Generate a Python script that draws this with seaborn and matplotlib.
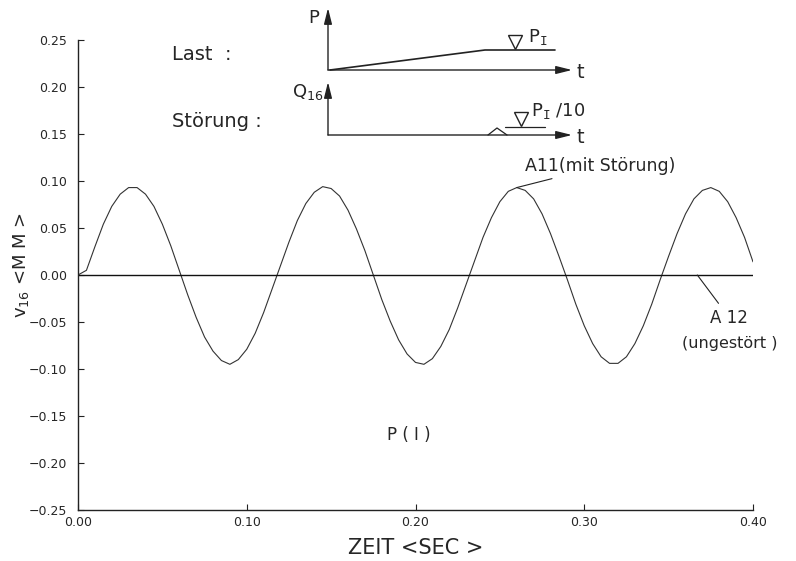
import numpy as np
import pandas as pd
import matplotlib
matplotlib.use("Agg")
import matplotlib.pyplot as plt
import seaborn as sns

# ---------------- data ----------------
time_s = [0.000, 0.005, 0.010, 0.015, 0.020, 0.025, 0.030, 0.035, 0.040, 0.045,
          0.050, 0.055, 0.060, 0.065, 0.070, 0.075, 0.080, 0.085, 0.090, 0.095,
          0.100, 0.105, 0.110, 0.115, 0.120, 0.125, 0.130, 0.135, 0.140, 0.145,
          0.150, 0.155, 0.160, 0.165, 0.170, 0.175, 0.180, 0.185, 0.190, 0.195,
          0.200, 0.205, 0.210, 0.215, 0.220, 0.225, 0.230, 0.235, 0.240, 0.245,
          0.250, 0.255, 0.260, 0.265, 0.270, 0.275, 0.280, 0.285, 0.290, 0.295,
          0.300, 0.305, 0.310, 0.315, 0.320, 0.325, 0.330, 0.335, 0.340, 0.345,
          0.350, 0.355, 0.360, 0.365, 0.370, 0.375, 0.380, 0.385, 0.390, 0.395,
          0.400]
a11_mit_stoerung = [0.000, 0.005, 0.030, 0.054, 0.073, 0.086, 0.093, 0.093, 0.086, 0.073,
                    0.054, 0.031, 0.005, -0.021, -0.045, -0.066, -0.081, -0.091, -0.095, -0.090,
                    -0.079, -0.062, -0.040, -0.015, 0.010, 0.035, 0.058, 0.076, 0.088, 0.094,
                    0.092, 0.084, 0.069, 0.049, 0.026, 0.000, -0.026, -0.049, -0.069, -0.084,
                    -0.093, -0.095, -0.089, -0.076, -0.058, -0.035, -0.010, 0.015, 0.040, 0.061,
                    0.078, 0.089, 0.093, 0.090, 0.081, 0.065, 0.044, 0.020, -0.005, -0.031,
                    -0.054, -0.073, -0.087, -0.094, -0.094, -0.087, -0.073, -0.054, -0.031, -0.005,
                    0.020, 0.044, 0.065, 0.081, 0.090, 0.093, 0.089, 0.078, 0.061, 0.040,
                    0.014]
a12_time = [0.000, 0.400]
a12_ungestoert = [0.000, 0.000]

x_ticks = [0.00, 0.10, 0.20, 0.30, 0.40]
x_ticklabels = ["0.00", "0.10", "0.20", "0.30", "0.40"]
y_ticks = [0.25, 0.20, 0.15, 0.10, 0.05, 0.00, -0.05, -0.10, -0.15, -0.20, -0.25]
y_ticklabels = ["0.25", "0.20", "0.15", "0.10", "0.05", "0.00",
                "\u22120.05", "\u22120.10", "\u22120.15", "\u22120.20", "\u22120.25"]

# schematic inset (load and disturbance sketches), in sketch units
load_t = [330, 485, 555]
load_p = [70, 50, 50]
hump_t = [488, 497, 507]
hump_q = [135, 128, 135]
level_t = [505, 545]
level_q = [127, 127]

# ---------------- styling ----------------
sns.set_theme(style="ticks")
plt.rcParams["font.family"] = ["DejaVu Sans"]
plt.rcParams["mathtext.fontset"] = "dejavusans"

fig = plt.figure(figsize=(7.96, 5.61), dpi=100)
W, H = 796, 561
ax = fig.add_axes([78 / W, 1 - 510 / H, (753 - 78) / W, (510 - 40) / H])

df = pd.DataFrame({"t": time_s, "v": a11_mit_stoerung})
df2 = pd.DataFrame({"t": a12_time, "v": a12_ungestoert})
sns.lineplot(data=df, x="t", y="v", ax=ax, color="#333333", linewidth=0.8, sort=False)
sns.lineplot(data=df2, x="t", y="v", ax=ax, color="#111111", linewidth=1.0)

ax.set_xlim(0, 0.40)
ax.set_ylim(-0.25, 0.25)
ax.set_xticks(x_ticks)
ax.set_xticklabels(x_ticklabels, fontsize=9)
ax.set_yticks(y_ticks)
ax.set_yticklabels(y_ticklabels, fontsize=9)
ax.tick_params(direction="in", length=4, width=0.8, color="#222222", pad=8)
ax.tick_params(axis="x", pad=4)
for s in ["top", "right"]:
    ax.spines[s].set_visible(False)
for s in ["left", "bottom"]:
    ax.spines[s].set_linewidth(1.0)
    ax.spines[s].set_color("#222222")

ax.set_xlabel("ZEIT <SEC >", fontsize=15, labelpad=7)
ax.set_ylabel("v$_{16}$ <M M >", fontsize=13)
ax.yaxis.set_label_coords(-0.07, 0.52)

# annotations
ax.annotate("A11(mit Störung)", xy=(0.260, 0.093), xytext=(0.265, 0.106),
            fontsize=12.5, ha="left", va="bottom",
            arrowprops=dict(arrowstyle="-", color="#222222", lw=0.8, shrinkA=0, shrinkB=0))
ax.annotate("A 12", xy=(0.367, 0.0), xytext=(0.386, -0.036),
            fontsize=12, ha="center", va="top",
            arrowprops=dict(arrowstyle="-", color="#222222", lw=0.8, shrinkA=2, shrinkB=0))
ax.text(0.386, -0.073, "(ungestört )", fontsize=11.5, ha="center", va="center")
ax.text(0.196, -0.170, "P ( I )", fontsize=12, ha="center", va="center")

# ---------------- inset sketches ----------------
ins = fig.add_axes([160 / W, 1 - 145 / H, 440 / W, 145 / H])
ins.set_xlim(160, 600)
ins.set_ylim(145, 0)
ins.axis("off")
arrow_kw = dict(arrowstyle="-|>,head_length=0.8,head_width=0.2", color="#222222", lw=1.0,
                shrinkA=0, shrinkB=0)
ins.annotate("", xy=(328, 8), xytext=(328, 70), arrowprops=arrow_kw)
ins.annotate("", xy=(572, 70), xytext=(328, 70), arrowprops=arrow_kw)
ins.annotate("", xy=(328, 82), xytext=(328, 135), arrowprops=arrow_kw)
ins.annotate("", xy=(572, 135), xytext=(328, 135), arrowprops=arrow_kw)
ins.plot(load_t, load_p, color="#222222", lw=1.2)
ins.plot(hump_t, hump_q, color="#222222", lw=0.9)
ins.plot(level_t, level_q, color="#222222", lw=0.9)
ins.plot([515], [42], marker="v", markersize=10, mfc="white", mec="#222222", mew=1.0)
ins.plot([521], [119], marker="v", markersize=10, mfc="white", mec="#222222", mew=1.0)

ins.text(172, 55, "Last  :", fontsize=14, va="center", ha="left")
ins.text(172, 121, "Störung :", fontsize=14, va="center", ha="left")
ins.text(314, 18, "P", fontsize=13, va="center", ha="center")
ins.text(308, 92, "Q$_{16}$", fontsize=13, va="center", ha="center")
ins.text(580, 72, "t", fontsize=14, va="center", ha="center")
ins.text(580, 137, "t", fontsize=14, va="center", ha="center")
ins.text(528, 37, "P$_{\\mathtt{I}}$", fontsize=13, va="center", ha="left")
ins.text(531, 111, "P$_{\\mathtt{I}}$ /10", fontsize=13, va="center", ha="left")

fig.savefig("out.png", dpi=100)
